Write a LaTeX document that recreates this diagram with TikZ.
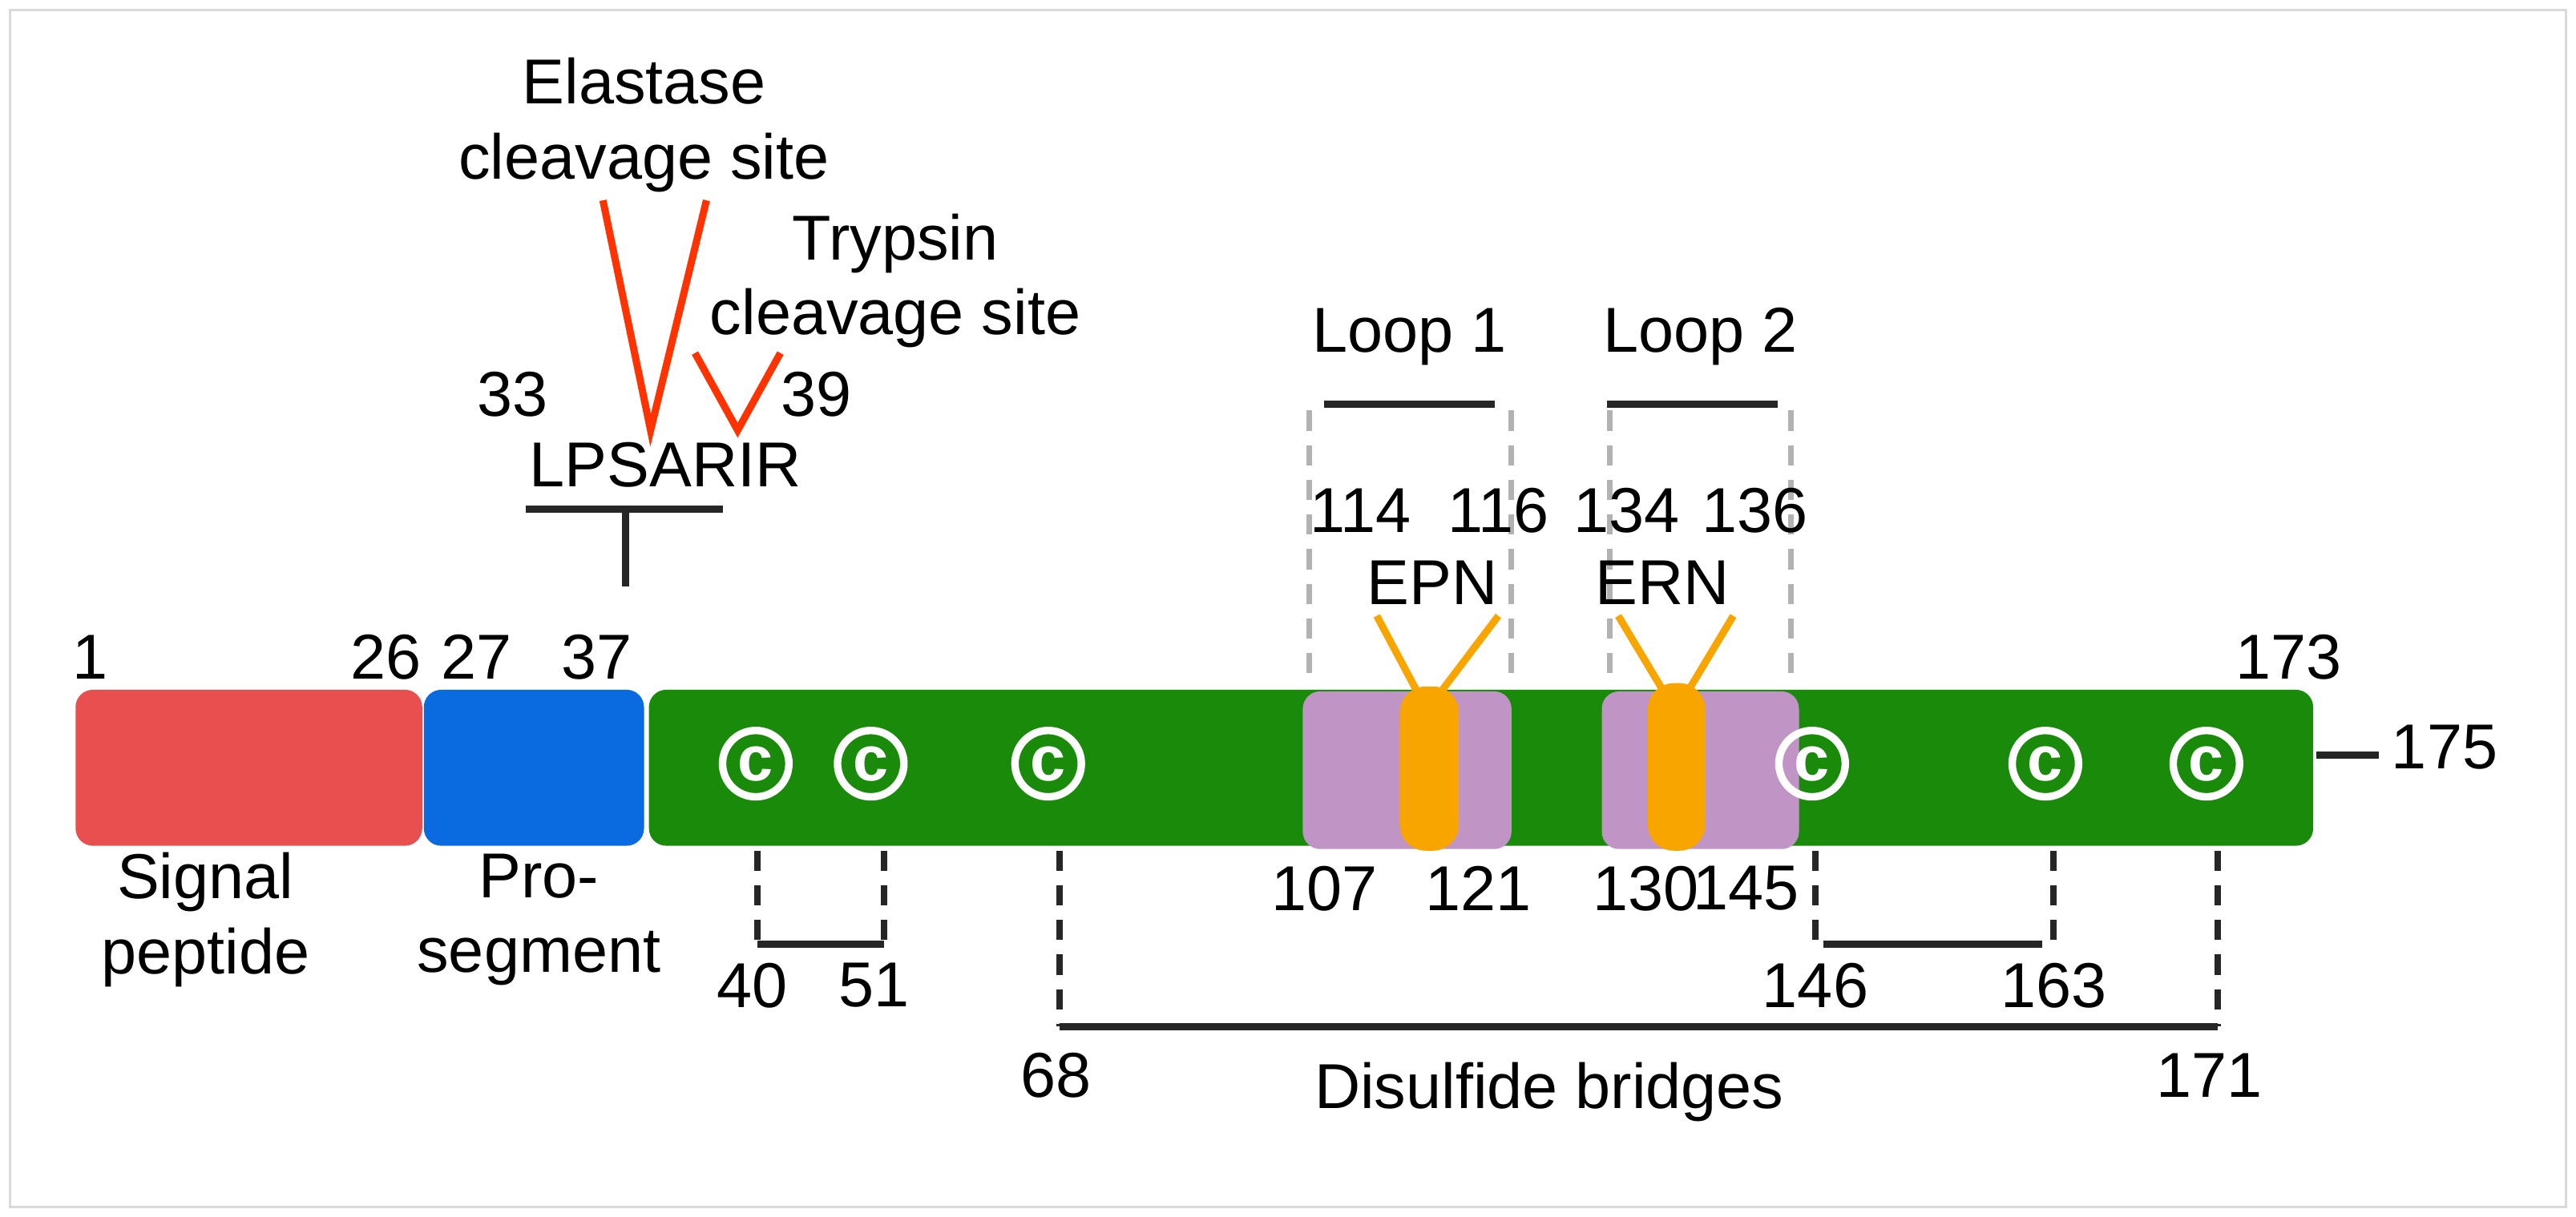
\documentclass[tikz,border=0pt]{standalone}
\usepackage{fontspec}
\setmainfont{Liberation Sans}
\definecolor{cred}{HTML}{E85050}
\definecolor{cblue}{HTML}{0A6AE0}
\definecolor{cgreen}{HTML}{1A8A0A}
\definecolor{cpurp}{HTML}{C095C5}
\definecolor{corg}{HTML}{F8A500}
\definecolor{cline}{HTML}{FF3300}
\begin{document}
\begin{tikzpicture}[x=0.02cm,y=-0.02cm,
  lbl/.style={font=\fontsize{22}{26}\selectfont,inner sep=0pt,align=center},
  bar/.style={rounded corners=6pt,draw=none},
  dis/.style={line width=2.2pt,dash pattern=on 7pt off 5pt,draw=black!85},
  sol/.style={line width=2.5pt,draw=black!85},
  gd/.style={line width=2pt,dash pattern=on 7pt off 5pt,draw=black!30},
  red/.style={line width=2.5pt,draw=cline},
  org/.style={line width=2.5pt,draw=corg},
  cc/.style={circle,draw=white,line width=2.6pt,minimum size=23pt,inner sep=0pt,text=white,font=\fontsize{22}{22}\selectfont\bfseries}]
\useasboundingbox (0,0) rectangle (1568,741);
\draw[black!15,line width=0.8pt] (6,6) rectangle (1562,735);
\fill[bar,fill=cred] (46,420) rectangle (257,515);
\fill[bar,fill=cblue] (258,420) rectangle (392,515);
\fill[bar,fill=cgreen] (395,420) rectangle (1408,515);
\fill[bar,fill=cpurp] (793,421) rectangle (920,517);
\fill[bar,fill=cpurp] (975,421) rectangle (1095,517);
\draw[org] (862,420) -- (838,375) (878,420) -- (912,375);
\draw[org] (1012,420) -- (985,375) (1028,420) -- (1055,375);
\fill[corg,rounded corners=9pt] (852,418) rectangle (888,518);
\fill[corg,rounded corners=9pt] (1003,416) rectangle (1038,518);
\foreach \n/\x in {c1/460,c2/530,c3/638,c4/1103,c5/1245,c6/1343}
  \node[cc] (\n) at (\x,465) {c};
% loops
\draw[gd] (797,250) -- (797,410); \draw[gd] (920,250) -- (920,410);
\draw[gd] (980,250) -- (980,410); \draw[gd] (1090,250) -- (1090,410);
\draw[sol] (806,246) -- (910,246); \draw[sol] (978,246) -- (1082,246);
\node[lbl] (l1) at (858,205) {Loop 1};
\node[lbl] (l2) at (1035,205) {Loop 2};
\node[lbl] at (828,311) {114}; \node[lbl] at (912,311) {116};
\node[lbl] at (990,311) {134}; \node[lbl] at (1068,311) {136};
\node[lbl] at (872,355) {EPN}; \node[lbl] at (1012,355) {ERN};
\node[lbl] at (806,541) {107}; \node[lbl] at (900,541) {121};
\node[lbl] at (1002,541) {130}; \node[lbl] at (1063,541) {145};
% disulfide
\draw[dis] (461,518) -- (461,575); \draw[dis] (538,518) -- (538,575);
\draw[sol] (461,575) -- (538,575);
\node[lbl] at (458,600) {40}; \node[lbl] at (532,600) {51};
\draw[dis] (645,518) -- (645,625); \draw[dis] (1350,518) -- (1350,625);
\draw[sol] (645,625) -- (1350,625);
\node[lbl] at (643,655) {68}; \node[lbl] at (1345,655) {171};
\node[lbl] at (943,665) {Disulfide bridges};
\draw[dis] (1105,518) -- (1105,575); \draw[dis] (1250,518) -- (1250,575);
\draw[sol] (1110,575) -- (1243,575);
\node[lbl] at (1105,600) {146}; \node[lbl] at (1250,600) {163};
\draw[sol] (1410,460) -- (1448,460);
\node[lbl] at (1488,455) {175};
\node[lbl] at (55,400) {1}; \node[lbl] at (235,400) {26};
\node[lbl] at (290,400) {27}; \node[lbl] at (363,400) {37};
\node[lbl] at (1393,400) {173};
\node[lbl] at (125,560) {Signal\\peptide};
\node[lbl] at (328,560) {Pro-\\segment};
% cleavage
\node[lbl] (seq) at (405,283) {LPSARIR};
\node[lbl] at (312,240) {33}; \node[lbl] at (497,240) {39};
\draw[sol] (320,310) -- (440,310); \draw[sol] (381,310) -- (381,357);
\draw[red] (367,122) -- (396,262) -- (430,122);
\draw[red] (423,215) -- (449,262) -- (475,215);
\node[lbl] at (392,76) {Elastase\\cleavage site};
\node[lbl] at (545,171) {Trypsin\\cleavage site};
\end{tikzpicture}
\end{document}
